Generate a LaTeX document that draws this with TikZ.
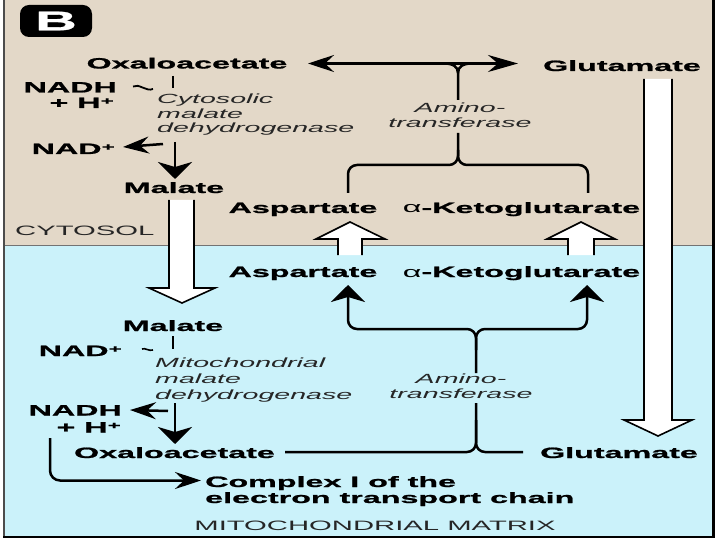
\documentclass[tikz,border=0pt]{standalone}
\usepackage{fontspec}
\newfontfamily\wfont[FakeStretch=2.15, BoldFeatures={FakeBold=1.2}]{Liberation Sans}
\usetikzlibrary{arrows.meta}
\definecolor{beige}{RGB}{227,216,200}
\definecolor{skyb}{RGB}{203,242,250}
\newcommand\supplus{\raisebox{3.5pt}{\fontsize{10.5}{10}\selectfont +}}
\tikzset{
  mol/.style={font=\wfont\bfseries\fontsize{15}{16}\selectfont, inner sep=0pt, anchor=base},
  enz/.style={font=\wfont\itshape\fontsize{13.3}{15}\selectfont, inner sep=0pt, text=black!85},
  comp/.style={font=\wfont\fontsize{13.6}{15}\selectfont, inner sep=0pt, text=black!85, anchor=base},
  ln/.style={line width=2.5pt, black},
  vtip/.style={-{Stealth[length=17pt,width=34pt,inset=5pt]}},
  htip/.style={-{Stealth[length=26pt,width=17pt,inset=9pt]}},
  blk/.style={draw=black, line width=1.6pt, line join=miter},
}
\begin{document}
\begin{tikzpicture}[x=1pt,y=-1pt]
\useasboundingbox (0,0) rectangle (720,540);
\fill[white] (0,0) rectangle (720,540);
% compartments
\fill[beige] (4,0) rectangle (713,245.5);
\fill[skyb] (4,245.5) rectangle (713,537);
\draw[black!55, line width=1pt] (4,245.5) -- (713,245.5);
\draw[black!70, line width=2.5pt] (4,0) -- (4,537);
\draw[black, line width=3pt] (713.5,0) -- (713.5,538);
\draw[black, line width=2.5pt] (3,537) -- (715,537);

% panel letter
\node[fill=black, rounded corners=9pt, minimum width=72pt, minimum height=32pt, inner sep=0pt,
      text=white, font=\wfont\bfseries\fontsize{27}{28}\selectfont] (B) at (56,21) {B};

% compartment labels
\node[comp, anchor=base west] (cyto) at (15,236) {CYTOSOL};
\node[comp] (matrix) at (375,530) {MITOCHONDRIAL MATRIX};

% ---------- cytosol ----------
\node[mol] (oaaC) at (187,68.5) {Oxaloacetate};
\node[mol] (gluC) at (622,71) {Glutamate};
\node[mol, anchor=base east] (nadhC) at (117,92.5) {NADH};
\node[mol, anchor=base east] (hC) at (114,108) {+ H\supplus};
\node[mol, anchor=base east] (nadC) at (115,154) {NAD\supplus};
\node[mol] (malC) at (174,193) {Malate};
\node[mol] (aspC) at (303,213) {Aspartate};
\node[mol] (akgC) at (521.5,213) {{\mdseries α}-Ketoglutarate};
\node[enz, anchor=base west] (enzC1) at (157,104) {Cytosolic};
\node[enz, anchor=base west] (enzC2) at (157,119) {malate};
\node[enz, anchor=base west] (enzC3) at (157,133) {dehydrogenase};
\node[enz, anchor=base] (amC1) at (460,113) {Amino-};
\node[enz, anchor=base] (amC2) at (460,128) {transferase};

% ---------- matrix ----------
\node[mol] (aspM) at (303,277) {Aspartate};
\node[mol] (akgM) at (521.5,277) {{\mdseries α}-Ketoglutarate};
\node[mol] (malM) at (173,331) {Malate};
\node[mol, anchor=base east] (nadM) at (122,356) {NAD\supplus};
\node[enz, anchor=base west] (enzM1) at (155,367) {Mitochondrial};
\node[enz, anchor=base west] (enzM2) at (155,383) {malate};
\node[enz, anchor=base west] (enzM3) at (155,399) {dehydrogenase};
\node[mol, anchor=base east] (nadhM) at (122,415.5) {NADH};
\node[mol, anchor=base east] (hM) at (121,432.5) {+ H\supplus};
\node[mol] (oaaM) at (174.5,458) {Oxaloacetate};
\node[mol] (gluM) at (619,458) {Glutamate};
\node[enz, anchor=base] (amM1) at (461,383) {Amino-};
\node[enz, anchor=base] (amM2) at (461,398) {transferase};
\node[mol, anchor=base west] (cx1) at (205,487) {Complex I of the};
\node[mol, anchor=base west] (cx2) at (205,503) {electron transport chain};

% ---------- coordinates ----------
\coordinate (dl) at (308,63.5);
\coordinate (dr) at (518,63.5);
\coordinate (yc) at (458,73);

% ---------- cytosol connectors ----------
\draw[ln] (173,76) -- (173,88);
\draw[ln, vtip] (175,142) -- (175,179);
\draw[ln, htip] (163,144) -- (123,147);
\draw[line width=1.8pt] (133,86.5) .. controls (139,83) and (146,92) .. (153,89);
\draw[line width=2.2pt, {Stealth[length=26pt,width=17pt,inset=9pt]}-{Stealth[length=30pt,width=17pt,inset=10pt]}] (dl) -- (dr);
\draw[ln] (458,100) -- (yc) .. controls (458,66.5) and (453,63.5) .. (444,63.5);
\draw[ln] (yc) .. controls (458,66.5) and (463,63.5) .. (472,63.5);
\draw[ln, rounded corners=9pt] (458,133) -- (458,165) -- (348,165) -- (348,193);
\draw[ln, rounded corners=9pt] (458,150) -- (458,165) -- (588,165) -- (588,193);

% ---------- matrix connectors ----------
\draw[ln] (173,336) -- (173,349);
\draw[ln, vtip] (175,403) -- (175,444);
\draw[ln, htip] (168,411) -- (130,410);
\draw[line width=1.6pt] (142,349) .. controls (145,347.5) and (149,351.5) .. (153,350);
\draw[ln, vtip, rounded corners=9pt] (476,373) -- (476,329) -- (348,329) -- (348,285);
\draw[ln, vtip, rounded corners=9pt] (476,350) -- (476,329) -- (587,329) -- (587,285);
\draw[ln, rounded corners=9pt] (476,403) -- (476,452) -- (285,452);
\draw[ln, rounded corners=9pt] (476,420) -- (476,452) -- (523,452);
\draw[ln, htip, rounded corners=10pt] (50,438) -- (50,480.5) -- (201,480.5);

% ---------- block arrows (transport) ----------
% malate: cytosol -> matrix
\fill[white] (169,200) -- (169,288) -- (149,288) -- (182,303) -- (215,288) -- (194,288) -- (194,200) -- cycle;
\draw[blk] (169,200) -- (169,288) -- (149,288) -- (182,303) -- (215,288) -- (194,288) -- (194,200);
% glutamate: cytosol -> matrix
\fill[white] (644,79) -- (644,420) -- (624,420) -- (658,436) -- (692,420) -- (672,420) -- (672,79) -- cycle;
\draw[blk] (644,79) -- (644,420) -- (624,420) -- (658,436) -- (692,420) -- (672,420) -- (672,79);
% aspartate: matrix -> cytosol
\fill[white] (338,255) -- (338,239) -- (316,239) -- (350,222) -- (385,239) -- (362,239) -- (362,255) -- cycle;
\draw[blk] (338,255) -- (338,239) -- (316,239) -- (350,222) -- (385,239) -- (362,239) -- (362,255);
% alpha-ketoglutarate: matrix -> cytosol
\fill[white] (568,255) -- (568,239) -- (547,239) -- (581,222) -- (615,239) -- (594,239) -- (594,255) -- cycle;
\draw[blk] (568,255) -- (568,239) -- (547,239) -- (581,222) -- (615,239) -- (594,239) -- (594,255);
\end{tikzpicture}
\end{document}
